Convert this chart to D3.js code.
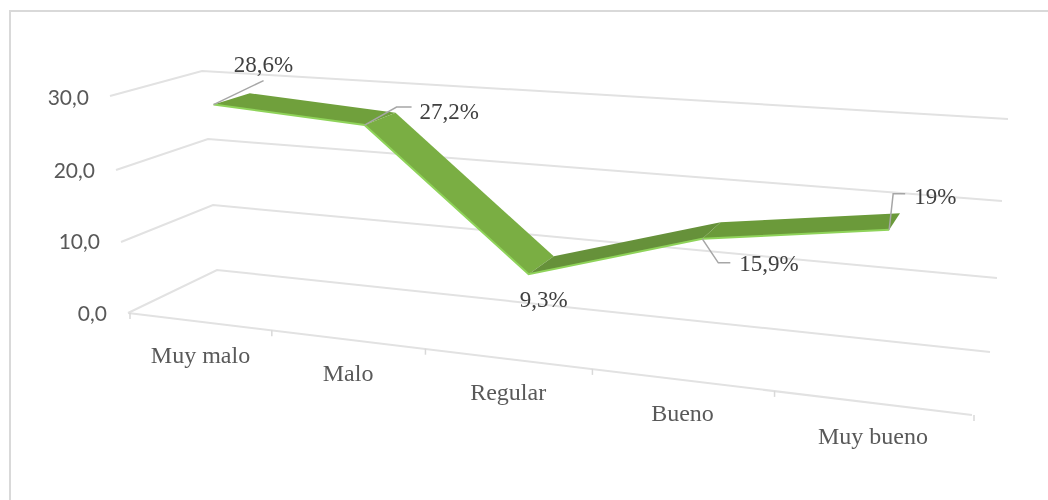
<!DOCTYPE html>
<html><head><meta charset="utf-8">
<script src="https://cdn.jsdelivr.net/npm/d3@7"></script>
<style>html,body{margin:0;background:#fff}svg{display:block;filter:blur(0.45px)}</style></head>
<body><div id="c"></div>
<script>
const categories = ["Muy malo","Malo","Regular","Bueno","Muy bueno"];
const values = [28.6,27.2,9.3,15.9,19];
const labels = ["28,6%","27,2%","9,3%","15,9%","19%"];
const yTicks = [0,10,20,30];
const yTickLabels = ["0,0","10,0","20,0","30,0"];
const segmentColors = ["#70a03c","#7aae43","#66913a","#6b9a3a"];

const W=1048,H=500;
const svg=d3.select("#c").append("svg").attr("width",W).attr("height",H);
svg.append("path").attr("d","M10,500V11H1048").attr("fill","none").attr("stroke","#d9d9d9").attr("stroke-width",2);

const lvl=(r)=>d3.scaleLinear().domain(yTicks).range(r);
const corner={
 flx:lvl([128,121,116,110]), fly:lvl([313,242,170,96]),
 frx:lvl([972,979,986,993]), fry:lvl([415,325,240,153]),
 brx:lvl([990,997,1002,1008]), bry:lvl([352,278,201,119]),
 blx:lvl([217,213,208,202]), bly:lvl([270,205,139,71])
};
function homography(p0,p1,p2,p3){
 const dx1=p1[0]-p2[0],dx2=p3[0]-p2[0],dx3=p0[0]-p1[0]+p2[0]-p3[0];
 const dy1=p1[1]-p2[1],dy2=p3[1]-p2[1],dy3=p0[1]-p1[1]+p2[1]-p3[1];
 const den=dx1*dy2-dx2*dy1;
 const g=(dx3*dy2-dx2*dy3)/den,h=(dx1*dy3-dx3*dy1)/den;
 const a=p1[0]-p0[0]+g*p1[0],b=p3[0]-p0[0]+h*p3[0],c=p0[0];
 const d=p1[1]-p0[1]+g*p1[1],e=p3[1]-p0[1]+h*p3[1],f=p0[1];
 return (u,v)=>{const w=g*u+h*v+1;return [(a*u+b*v+c)/w,(d*u+e*v+f)/w];};
}
const proj=(u,d,v)=>homography(
 [corner.flx(v),corner.fly(v)],[corner.frx(v),corner.fry(v)],
 [corner.brx(v),corner.bry(v)],[corner.blx(v),corner.bly(v)])(u,d);
const x=d3.scaleBand().domain(categories).range([0,1]);
const cx=c=>x(c)+x.bandwidth()/2;
// ribbon runs a little off the band centres in the original's 3D layout
const ribbonU=d3.scaleOrdinal().domain(categories).range([0.101,0.287,0.476,0.675,0.887]);
const depth=d3.scalePoint().domain(["front","back"]).range([0.25,0.67]);

const line=d3.line();
const grid=svg.append("g").attr("fill","none").attr("stroke","#e2e2e2").attr("stroke-width",2);
yTicks.forEach(t=>{
  grid.append("path").attr("d",line([[corner.flx(t),corner.fly(t)],[corner.blx(t),corner.bly(t)],[corner.brx(t),corner.bry(t)]]));
});
grid.append("path").attr("d",line([proj(0,0,0),proj(1,0,0)]));
[...categories.map(c=>x(c)),1].forEach(u=>{
  const p=proj(u,0,0);
  grid.append("path").attr("stroke-width",1.5).attr("stroke","#d9d9d9").attr("d",line([[p[0]+2,p[1]],[p[0]+2,p[1]+6]]));
});
yTicks.forEach((t,i)=>{
  const p=proj(0,0,t);
  svg.append("text").attr("x",p[0]-21).attr("y",p[1]+1+(t==30?1:0)-(t==10?1:0)).attr("dy","0.35em").attr("text-anchor","end")
   .attr("font-family","Lato").attr("font-size",21).attr("fill","#595959").text(yTickLabels[i]);
});
categories.forEach(c=>{
  const p=proj(cx(c),0,0);
  svg.append("text").attr("x",p[0]+3).attr("y",p[1]+33).attr("dy","0.35em").attr("text-anchor","middle")
   .attr("font-family","Liberation Serif").attr("font-size",24).attr("fill","#595959").text(c);
});
const pts=categories.map((c,i)=>({f:proj(ribbonU(c),depth("front"),values[i]),b:proj(ribbonU(c),depth("back"),values[i])}));
const rib=svg.append("g");
d3.pairs(pts).forEach(([a,b],i)=>{
  rib.append("path").attr("d",line([a.f,b.f,b.b,a.b])+"Z").attr("fill",segmentColors[i]);
});
rib.append("path").attr("d",line(pts.map(p=>p.f))).attr("fill","none").attr("stroke","#8fd35a").attr("stroke-width",2);
const leaderOff=[[[50,-24]],[[32,-18],[47,-18]],null,[[16,24],[28,24]],[[4,-36],[16,-36]]];
const labelOff=[[50,-41,"middle"],[55,-14,"start"],[15,25,"middle"],[37,24,"start"],[25,-34,"start"]];
pts.forEach((p,i)=>{
  if(leaderOff[i]) svg.append("path").attr("fill","none").attr("stroke","#a6a6a6").attr("stroke-width",1.5)
   .attr("d",line([p.f,...leaderOff[i].map(o=>[p.f[0]+o[0],p.f[1]+o[1]])]));
  svg.append("text").attr("x",p.f[0]+labelOff[i][0]).attr("y",p.f[1]+labelOff[i][1]).attr("dy","0.35em")
   .attr("text-anchor",labelOff[i][2]).attr("font-family","Liberation Serif").attr("font-size",23)
   .attr("fill","#404040").text(labels[i]);
});
</script></body></html>
